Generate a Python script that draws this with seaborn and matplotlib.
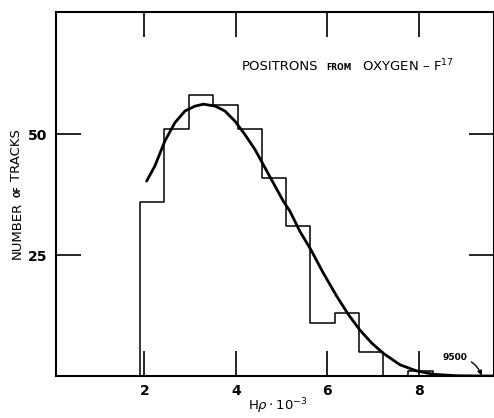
import numpy as np
import pandas as pd
import matplotlib
matplotlib.use('Agg')
import matplotlib.pyplot as plt
import seaborn as sns

sns.set_style('white')
plt.rcParams['font.family'] = ['DejaVu Sans']
plt.rcParams['text.color'] = 'black'
plt.rcParams['xtick.color'] = 'black'
plt.rcParams['ytick.color'] = 'black'

# histogram of tracks, bin edges in units of H rho * 10^-3
bin_edges = [1.90, 2.44, 2.97, 3.50, 4.04, 4.57, 5.10, 5.63, 6.16, 6.70, 7.22, 7.77, 8.30]
track_counts = [36, 51, 58, 56, 51, 41, 31, 11, 13, 5, 0, 1]

# fitted curve
curve_x = [2.05, 2.23, 2.45, 2.67, 2.89, 3.11, 3.29, 3.55, 3.76, 3.98, 4.20, 4.42,
           4.64, 4.86, 5.04, 5.18, 5.40, 5.64, 5.91, 6.21, 6.46, 6.71, 6.97, 7.22,
           7.59, 7.95, 8.32, 8.83, 9.34, 9.63]
curve_y = [40.3, 43.4, 48.6, 52.4, 54.8, 55.8, 56.2, 55.8, 54.8, 52.7, 49.9, 46.8,
           43.0, 39.2, 36.1, 34.1, 29.9, 26.1, 21.3, 16.4, 12.7, 9.5, 6.8, 4.7,
           2.3, 1.05, 0.35, 0.05, 0.0, 0.0]

x_ticks = [2, 4, 6, 8]
y_ticks = [25, 50]

# add an empty bin on each side so the outline drops to the baseline
w = bin_edges[1] - bin_edges[0]
edges = [bin_edges[0] - w] + bin_edges + [bin_edges[-1] + w]
counts = [0] + track_counts + [0]
centers = [(a + b) / 2 for a, b in zip(edges[:-1], edges[1:])]
hist_df = pd.DataFrame({'hrho': centers, 'count': counts})
curve_df = pd.DataFrame({'hrho': curve_x, 'n': curve_y})

fig = plt.figure(figsize=(4.94, 4.18), dpi=100)
ax = fig.add_axes([0.1124, 0.1005, 0.8866, 0.8701])

sns.histplot(data=hist_df, x='hrho', weights='count', bins=edges,
             element='step', fill=False, color='black', linewidth=1.1, ax=ax)
sns.lineplot(data=curve_df, x='hrho', y='n', color='black', linewidth=2.0, ax=ax)

ax.set_xlim(0.06, 9.63)
ax.set_ylim(0, 75.2)
ax.set_xticks(x_ticks)
ax.set_yticks(y_ticks)
ax.tick_params(axis='both', direction='in', length=18, width=1.2, color='black',
               bottom=True, left=True, top=True, right=True, labelsize=10, pad=6)
for lab in ax.get_xticklabels() + ax.get_yticklabels():
    lab.set_fontweight('bold')
for s in ax.spines.values():
    s.set_visible(True)
    s.set_color('black')
    s.set_linewidth(1.5)
ax.set_xlabel('')
ax.set_ylabel('')

# axis labels
fig.text(278 / 494, 1 - 406 / 418, r'H$\rho\cdot$10$^{-3}$', ha='center', va='center',
         fontsize=9.5)
fig.text(17 / 494, 1 - 230 / 418, 'NUMBER', rotation=90, ha='center', va='center',
         fontsize=9.5)
fig.text(18 / 494, 1 - 191 / 418, 'OF', rotation=90, ha='center', va='center',
         fontsize=5.5, fontweight='bold')
fig.text(17 / 494, 1 - 155.5 / 418, 'TRACKS', rotation=90, ha='center', va='center',
         fontsize=9.5)

# title inside plot
ty = 1 - 66 / 418
fig.text(242 / 494, ty, 'POSITRONS', ha='left', va='center', fontsize=9.5)
fig.text(326 / 494, ty - 0.003, 'FROM', ha='left', va='center', fontsize=5.5, fontweight='bold')
fig.text(362 / 494, ty, 'OXYGEN \u2013 F$^{17}$', ha='left', va='center', fontsize=9.5)

ax.annotate('9500', xy=(9.37, 0.1), xytext=(9.05, 3.8), fontsize=6.5, fontweight='bold',
            ha='right', va='center',
            arrowprops=dict(arrowstyle='-|>', color='black', lw=1.0,
                            connectionstyle='arc3,rad=-0.35', shrinkA=1, shrinkB=0))

fig.savefig('out.png', dpi=100)
